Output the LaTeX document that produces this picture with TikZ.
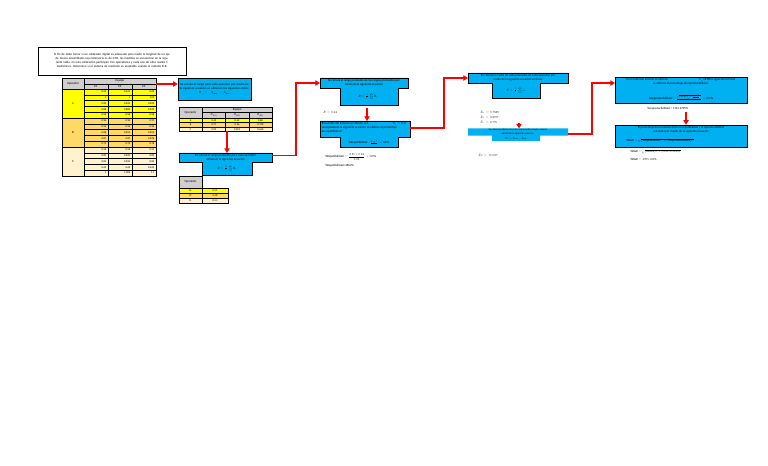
\documentclass[tikz,border=0pt]{standalone}
\usepackage{amsmath}
\usepackage{fontspec}
\setmainfont{Carlito}
\DeclareFontShape{OML}{cmm}{m}{it}{<->cmmi10}{}
\DeclareFontShape{OMS}{cmsy}{m}{n}{<->cmsy10}{}
\DeclareFontShape{OMX}{cmex}{m}{n}{<->cmex10}{}
\DeclareFontShape{OT1}{cmr}{m}{n}{<->cmr10}{}
\usetikzlibrary{arrows.meta}
\definecolor{cyanbox}{HTML}{00B0F0}
\definecolor{hdr}{HTML}{D0CECE}
\definecolor{rowA}{HTML}{FFFF00}
\definecolor{rowB}{HTML}{FFD966}
\definecolor{rowC}{HTML}{FFF2CC}
\definecolor{arrred}{HTML}{FF0000}
\newcommand\fs{\fontsize{2.3}{3.0}\selectfont}
\newcommand\fn{\fontsize{2.0}{2.4}\selectfont}
\begin{document}
\begin{tikzpicture}[x=0.75pt,y=-0.75pt,
  cybox/.style={fill=cyanbox,draw=black,line width=0.35pt},
  conn/.style={draw=arrred,line width=0.9pt},
  arr/.style={conn,-{Triangle[length=3.5pt,width=4pt]}},
  cell/.style={draw=black,line width=0.3pt},
  lbl/.style={inner sep=0pt,font=\fs,align=center},
  num/.style={inner sep=0pt,font=\fn},
]
\fill[white] (0,0) rectangle (768,466);
\useasboundingbox (0,0) rectangle (768,466);

% ---------- problem statement ----------
\node[draw,line width=0.6pt,minimum width=111pt,minimum height=21pt,text width=106pt,align=center,font=\fs,inner sep=1pt] (prob) at (112,61)
 {Si fin de debe tomar si un calibrador digital es adecuado para medir la longitud de un eje de mosca ensamblado,cuya tolerancia es de 0.02, las medidas se encuentran en la siguiente tabla, en esta calibración participan tres operadores y cada uno de ellos realizó 5 mediciones. Determine si el sistema de medición es aceptable usando el método R-R.};

% ---------- table 1 ----------
\draw[cell,fill=hdr] (62,78) rectangle (84,89);
\node[lbl] (t1op) at (73,83.5) {Operador};
\draw[cell,fill=hdr] (84,78) rectangle (156,84);
\node[lbl] (t1eq) at (120,81) {Equipo};
\foreach \x/\l in {84/E1,108/E2,132/E3}{
  \draw[cell,fill=hdr] (\x,84) rectangle ++(24,5);
  \node[lbl] at (\x+12,86.5) {\l};
}
\foreach \a/\b/\c/\f [count=\r from 0] in {
 0.63/0.635/0.63/rowA, 1/1/1.03/rowA, 0.83/0.835/0.833/rowA, 0.88/0.885/0.870/rowA, 0.58/0.58/0.58/rowA,
 0.96/0.96/0.97/rowB, 0.96/0.96/0.96/rowB, 0.86/0.855/0.853/rowB, 0.87/0.87/0.876/rowB, 0.75/0.75/0.78/rowB,
 0.58/0.58/0.59/rowC, 0.82/0.835/0.82/rowC, 0.82/0.835/0.82/rowC, 0.63/0.63/0.635/rowC, 1/1.005/1.1/rowC}{
  \pgfmathsetmacro\yy{89+\r*5.8}
  \draw[cell,fill=\f] (84,\yy) rectangle ++(24,5.8);
  \draw[cell,fill=\f] (108,\yy) rectangle ++(24,5.8);
  \draw[cell,fill=\f] (132,\yy) rectangle ++(24,5.8);
  \node[num,anchor=east] at (106.5,\yy+2.9) {\a};
  \node[num,anchor=east] at (130.5,\yy+2.9) {\b};
  \node[num,anchor=east] at (154.5,\yy+2.9) {\c};
}
\draw[cell,fill=rowA] (62,89) rectangle (84,118);
\node[lbl] (opA) at (73,103.5) {A};
\draw[cell,fill=rowB] (62,118) rectangle (84,147);
\node[lbl] (opB) at (73,132.5) {B};
\draw[cell,fill=rowC] (62,147) rectangle (84,176);
\node[lbl] (opC) at (73,161.5) {C};
\draw[line width=0.6pt] (62,78) rectangle (156,176);
\coordinate (t1r) at (156,84);

% ---------- box 2 ----------
\node[cybox,minimum width=54.75pt,minimum height=16.5pt,text width=53pt,align=center,font=\fs,inner sep=0.5pt] (b2) at (214.5,89)
 {Se calcula el rango para cada operador por medio de la siguiente ecuación se obtienen los siguientes datos:\\ $R=X_{\max}-X_{\min}$};
\draw[arr] (t1r) -- (b2.west |- t1r);

% ---------- table 2 ----------
\draw[cell,fill=hdr] (179,107) rectangle (202.25,118);
\node[lbl] (t2op) at (190.6,112.5) {Operador};
\draw[cell,fill=hdr] (202.25,107) rectangle (272,112.5);
\node[lbl] (t2eq) at (237.1,109.8) {Equipo};
\foreach \x/\l in {202.25/E1,225.5/E2,248.75/E3}{
  \draw[cell,fill=hdr] (\x,112.5) rectangle ++(23.25,5.5);
  \node[lbl] at (\x+11.6,115.3) {$R_{(\mathrm{\l})}$};
}
\foreach \o/\a/\b/\c/\f [count=\r from 0] in {A/0.42/0.42/0.68/rowA, B/0.27/0.36/0.198/rowB, C/0.09/0.095/0.668/rowC}{
  \pgfmathsetmacro\yy{118+\r*4.5}
  \draw[cell,fill=\f] (179,\yy) rectangle ++(23.25,4.5);
  \draw[cell,fill=\f] (202.25,\yy) rectangle ++(23.25,4.5);
  \draw[cell,fill=\f] (225.5,\yy) rectangle ++(23.25,4.5);
  \draw[cell,fill=\f] (248.75,\yy) rectangle ++(23.25,4.5);
  \node[num] at (190.6,\yy+2.25) {\o};
  \node[num] at (213.9,\yy+2.25) {\a};
  \node[num] at (237.1,\yy+2.25) {\b};
  \node[num] at (260.4,\yy+2.25) {\c};
}
\draw[line width=0.5pt] (179,107) rectangle (272,131.5);
\coordinate (t2b) at (227,131.5);

% ---------- box 3 ----------
\draw[cybox] (179,153) -- (272,153) -- (272,162) -- (252,162) -- (252,175) -- (202,175) -- (202,162) -- (179,162) -- cycle;
\node[lbl] (b3) at (225.5,157.5) {Se calcula el rango promedio para cada operador\\ utilizando la siguiente ecuación};
\node[lbl] (b3f) at (227,168.5) {$\bar{R}=\frac{1}{n}\sum\limits_{i=1}^{n}R_i$};
\coordinate (b3t) at (227,153);
\coordinate (b3r) at (272,155.5);
\draw[arr] (t2b) -- (b3t);

% ---------- table 3 ----------
\draw[cell,fill=hdr] (179,176) rectangle (202.25,188);
\node[lbl] (t3op) at (190.6,182) {Operador};
\foreach \l/\v/\f [count=\r from 0] in {a/0.51/rowA, b/0.28/rowB, c/0.53/rowC}{
  \pgfmathsetmacro\yy{188+\r*5}
  \draw[cell,fill=\f] (179,\yy) rectangle ++(23.25,5);
  \draw[cell,fill=\f] (202.25,\yy) rectangle ++(25.75,5);
  \node[num] at (190.6,\yy+2.5) {$\bar{R}_{\l}$};
  \node[num] at (215,\yy+2.5) {\v};
}
\draw[line width=0.5pt] (179,188) rectangle (228,203);

% ---------- box 4 ----------
\draw[cybox] (320,78) -- (408,78) -- (408,88) -- (398,88) -- (398,105) -- (340,105) -- (340,88) -- (320,88) -- cycle;
\node[lbl] (b4) at (364,82.8) {Se calcula el rango promedio de los rangos promedios por\\ medio de la siguiente ecuación};
\node[lbl] (b4f) at (368,96.5) {$\bar{R}=\frac{1}{n}\sum\limits_{i=1}^{n}\bar{R}_i$};
\coordinate (b4l) at (320,83);
\draw[arr] (b3r) -- ++(24,0) |- (b4l);
\node[lbl,anchor=west] (rbar) at (323,112.5) {$\bar{R}\;=\;0.44$};
\coordinate (b4b) at (367,108);

% ---------- box 5 ----------
\draw[cybox,line width=0.5pt] (320,121) -- (410,121) -- (410,137) -- (398,137) -- (398,147.5) -- (340,147.5) -- (340,137) -- (320,137) -- cycle;
\node[lbl,align=left,anchor=north west] (b5) at (321.5,122.3) {En la tabla del artículo se obtiene que \hspace{17pt} $K_1=2.21$\\ reemplazando la siguiente ecuación se obtiene el porcentaje\\ de repetibilidad:};
\node[lbl] (b5f) at (369,142.6) {\%Repetibilidad: $\frac{K_1\times\bar{R}}{T}\times100\%$};
\coordinate (b5t) at (367,121);
\coordinate (b5r) at (410,128);
\draw[arr] (b4b) -- (b5t);
\node[lbl,anchor=west] (rep1) at (325,157) {\%Repetibilidad $=\dfrac{2.21\times0.44}{0.02}\times100\%$};
\node[lbl,anchor=west] (rep2) at (325,165.5) {\%Repetibilidad=4862\%};

% ---------- box 6 ----------
\draw[cybox] (468,73) -- (568,73) -- (568,83) -- (540,83) -- (540,98) -- (492,98) -- (492,83) -- (468,83) -- cycle;
\node[lbl] (b6) at (518,78) {Se calcula la media de cada promedio de cada operador por\\ medio de la siguiente ecuación se tiene:};
\node[lbl] (b6f) at (516,90.5) {$\bar{X}=\frac{1}{n}\sum\limits_{i=1}^{n}x_i$};
\coordinate (b6l) at (468,78);
\draw[arr] (b5r) -- ++(34,0) |- (b6l);
\node[lbl,anchor=west] (xa) at (480,112) {$\bar{X}_a\;=\;0.7829$};
\node[lbl,anchor=west] (xb) at (480,117) {$\bar{X}_b\;=\;0.8977$};
\node[lbl,anchor=west] (xc) at (480,122) {$\bar{X}_c\;=\;0.776$};
\coordinate (xcb) at (519,123);

% ---------- box 7 ----------
\draw[cybox,draw=none] (468,128.5) -- (568,128.5) -- (568,135.7) -- (540,135.7) -- (540,141) -- (492,141) -- (492,135.7) -- (468,135.7) -- cycle;
\node[inner sep=0pt,font=\fontsize{1.9}{2.5}\selectfont,align=center] (b7) at (518,131.8) {Se calcula la diferencia entre el promedio mayor y menor\\ utilizando la siguiente ecuación:};
\node[inner sep=0pt,font=\fontsize{1.9}{2.3}\selectfont] (b7f) at (516,138.6) {$\bar{X}_D=\bar{X}_{\max}-\bar{X}_{\min}$};
\coordinate (b7t) at (519,128.5);
\coordinate (b7r) at (568,134);
\draw[arr] (xcb) -- (b7t);
\node[lbl,anchor=west] (xd) at (478,155) {$\bar{X}_D=\;\;0.1217$};

% ---------- box 8 ----------
\node[cybox,minimum width=99pt,minimum height=19.5pt,inner sep=0pt] (b8) at (681,90.5) {};
\node[lbl] (b8t) at (681,81.8) {En la tabla del artículo se obtiene \hspace{22pt} \textbf{$K_2$=2.70} la siguiente fórmula\\ se obtiene el porcentaje de reproducibilidad:};
\node[lbl] (b8f) at (681,97.5) {\%reproducibilidad $=\frac{\sqrt{(\bar{X}_D K_2)^2-\frac{(K_1\bar{R})^2}{n\,r}}}{T}\times100\%$};
\coordinate (b8l) at (615,83);
\draw[arr] (b7r) -- ++(24,0) |- (b8l);
\node[lbl,anchor=west] (repro) at (647,108.5) {\%reproducibilidad = 1131.2795\%};
\coordinate (reprob) at (686,112);

% ---------- box 9 ----------
\node[cybox,minimum width=99pt,minimum height=16.5pt,inner sep=0pt] (b9) at (681,136) {};
\node[lbl] (b9t) at (681,130) {El porcentaje de la relación entre la repetibilidad y la reproducibilidad\\ calculada por medio de la siguiente ecuación};
\node[lbl,anchor=west] (b9f) at (626,140.5) {\%R\&R $=\sqrt{(\%\text{repetibilidad})^2+(\%\text{reproducibilidad})^2}$};
\draw[arr] (reprob) -- (b9.north -| reprob);
\node[lbl,anchor=west] (rr1) at (630,152) {\%R\&R $=\sqrt{(4862\%)^2+(1131.2795\%)^2}$};
\node[lbl,anchor=west] (rr2) at (630,159) {\%R\&R $=\;4995.162\%$};
\end{tikzpicture}
\end{document}
